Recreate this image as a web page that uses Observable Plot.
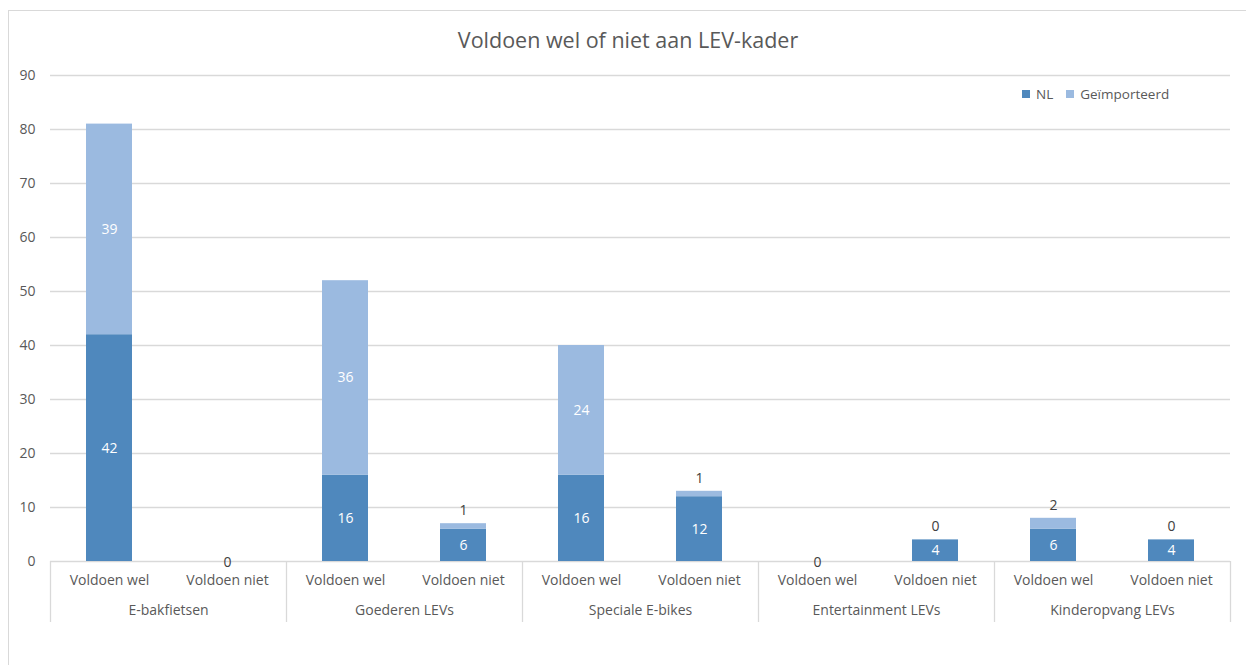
<!DOCTYPE html>
<html>
<head>
<meta charset="utf-8">
<script src="https://cdn.jsdelivr.net/npm/d3@7"></script>
<script src="https://cdn.jsdelivr.net/npm/@observablehq/plot@0.6"></script>
<style>
  html, body { margin: 0; padding: 0; background: #fff; overflow: hidden; }
  #wrap { position: relative; width: 1246px; height: 665px; font-family: "Open Sans", Lato, sans-serif; color: #595959; }
  #border { position: absolute; left: 8px; top: 10px; width: 1300px; height: 700px; border: 1px solid #d9d9d9; box-sizing: border-box; }
  #title { position: absolute; left: 0; width: 1256px; top: 26px; text-align: center; font-size: 21.5px; line-height: 28px; }
  #legend { position: absolute; left: 1022px; top: 85px; font-size: 13.5px; line-height: 18px; display: flex; align-items: center; }
  .sw { display: inline-block; width: 8px; height: 8px; margin-right: 6px; }
  .item { display: flex; align-items: center; margin-right: 13px; }
  #chart { position: absolute; left: 0; top: 0; }
</style>
</head>
<body>
<div id="wrap">
  <div id="border"></div>
  <div id="chart"></div>
  <div id="title">Voldoen wel of niet aan LEV-kader</div>
  <div id="legend"></div>
</div>
<script>
// ---- data ----
const groups = ["E-bakfietsen", "Goederen LEVs", "Speciale E-bikes", "Entertainment LEVs", "Kinderopvang LEVs"];
const subs = ["Voldoen wel", "Voldoen niet"];
const nlValues = [42, 0, 16, 6, 16, 12, 0, 4, 6, 4];
const importValues = [39, 0, 36, 1, 24, 1, 0, 0, 2, 0];
const seriesNames = ["NL", "Geïmporteerd"];
const seriesColors = ["#4f88bd", "#9bbae0"];
const yTicks = [0, 10, 20, 30, 40, 50, 60, 70, 80, 90];

// ---- derived table ----
const keys = [];
groups.forEach(g => subs.forEach(s => keys.push(g + "|" + s)));
const rows = [];
keys.forEach((k, i) => rows.push({key: k, series: seriesNames[0], value: nlValues[i]}));
keys.forEach((k, i) => rows.push({key: k, series: seriesNames[1], value: importValues[i]}));
const totals = new Map(keys.map((k, i) => [k, nlValues[i] + importValues[i]]));

// ---- layout ----
const W = 1246, H = 665, mL = 50, mR = 16, mT = 75, mB = 104;
const step = (W - mL - mR) / keys.length;
const frameH = H - mT - mB;
const grid = "#d9d9d9";

const insideLabel = d => (d.series === seriesNames[0] ? d.value > 0 : d.value >= 5) ? String(d.value) : null;
const aboveLabel = d => (d.series === seriesNames[1] && d.value < 5 && totals.get(d.key) > 0) ? String(d.value) : null;
const zeroLabel = d => (d.series === seriesNames[1] && totals.get(d.key) === 0) ? String(d.value) : null;

const chart = Plot.plot({
  width: W, height: H,
  marginLeft: mL, marginRight: mR, marginTop: mT, marginBottom: mB,
  style: {fontFamily: "'Open Sans', Lato, sans-serif", fontSize: "14px", color: "#595959", background: "transparent"},
  x: {domain: keys, paddingInner: 0.61, paddingOuter: 0.305, label: null, axis: null},
  y: {domain: [0, 90], label: null, axis: null},
  color: {domain: seriesNames, range: seriesColors},
  marks: [
    Plot.ruleY(yTicks, {stroke: grid, strokeWidth: 1.3}),
    Plot.axisY(yTicks, {tickSize: 0, tickPadding: 15, label: null}),
    Plot.axisX({tickSize: 0, tickPadding: 14, tickFormat: k => k.split("|")[1], label: null}),
    Plot.ruleX(groups, {x: g => g + "|" + subs[0], dx: -step / 2, insetTop: frameH, insetBottom: -61, stroke: grid, strokeWidth: 1.3}),
    Plot.ruleX(groups.slice(-1), {x: g => g + "|" + subs[1], dx: step / 2, insetTop: frameH, insetBottom: -61, stroke: grid, strokeWidth: 1.3}),
    Plot.text(groups, {x: g => g + "|" + subs[0], dx: step / 2, frameAnchor: "bottom", dy: 53, text: d => d}),
    Plot.barY(rows, {x: "key", y: "value", fill: "series"}),
    // labels inside segments
    Plot.text(rows, Plot.stackY({x: "key", y: "value", text: insideLabel, fill: "white"})),
    // small imported values above the stack
    Plot.text(rows, Plot.stackY2({x: "key", y: "value", text: aboveLabel, dy: -13, fill: "#404040"})),
    // empty stacks: label at the baseline
    Plot.text(rows, Plot.stackY2({x: "key", y: "value", text: zeroLabel, dy: 1, fill: "#404040"}))
  ]
});
document.getElementById("chart").appendChild(chart);

// legend
const leg = document.getElementById("legend");
seriesNames.forEach((s, i) => {
  const it = document.createElement("span");
  it.className = "item";
  it.innerHTML = `<span class="sw" style="background:${seriesColors[i]}"></span><span>${s}</span>`;
  leg.appendChild(it);
});
</script>
</body>
</html>
